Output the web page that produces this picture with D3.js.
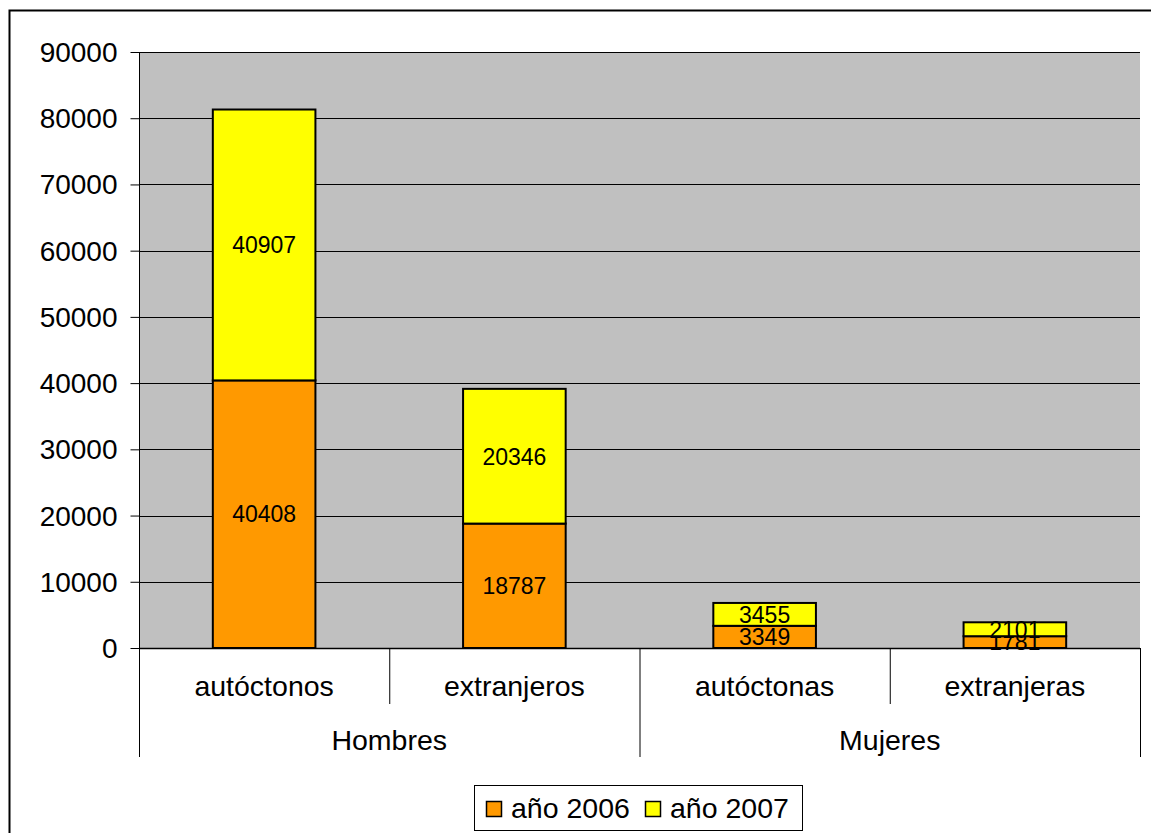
<!DOCTYPE html>
<html><head><meta charset="utf-8">
<script src="https://cdn.jsdelivr.net/npm/d3@7"></script>
<style>body{margin:0;background:#fff;}svg{display:block;font-family:"Liberation Sans",Arial,sans-serif;}</style>
</head><body>
<svg id="c" width="1151" height="833"></svg>
<script>
const categories = ["autóctonos","extranjeros","autóctonas","extranjeras"];
const groups = ["Hombres","Hombres","Mujeres","Mujeres"];
const groupNames = ["Hombres","Mujeres"];
const series = ["año 2006","año 2007"];
const values2006 = [40408, 18787, 3349, 1781];
const values2007 = [40907, 20346, 3455, 2101];
const yTicks = [0,10000,20000,30000,40000,50000,60000,70000,80000,90000];
const colors = ["#FF9900","#FFFF00"];

const svg = d3.select("#c");
svg.append("rect").attr("x",9.5).attr("y",10.5).attr("width",1160).attr("height",840)
  .attr("fill","none").attr("stroke","#000").attr("stroke-width",2);

const L=139, R=1140, T=52, B=648;
const x = d3.scaleBand().domain(categories.map((c,i)=>i)).range([L,R]).paddingInner(0).paddingOuter(0);
const y = d3.scaleLinear().domain([0,90000]).range([B,T]);

svg.append("rect").attr("x",L).attr("y",T).attr("width",R-L).attr("height",B-T).attr("fill","#C0C0C0");

svg.append("g").selectAll("line").data(yTicks.filter(d=>d>0)).join("line")
  .attr("x1",L).attr("x2",R).attr("y1",d=>Math.round(y(d))+0.5).attr("y2",d=>Math.round(y(d))+0.5)
  .attr("stroke","#000").attr("stroke-width",1);

const ya = svg.append("g").attr("transform",`translate(${L+0.5},0)`)
  .call(d3.axisLeft(y).tickValues(yTicks).tickFormat(d3.format("d")).tickSize(9).tickPadding(13));
ya.selectAll("text").attr("font-size",28).attr("fill","#000").attr("font-family","Liberation Sans, Arial, sans-serif")
  .attr("transform","scale(1,0.93)").attr("y",null).attr("dy",null)
  .attr("dy","0.34em");
ya.selectAll(".tick text").each(function(){ const t=d3.select(this); t.attr("transform",null); });
ya.selectAll("line").attr("stroke","#000");
ya.select(".domain").attr("stroke","#000").attr("d",`M0,${T}V${B}`);

const stackData = categories.map((c,i)=>({i, a:values2006[i], b:values2007[i]}));
const stack = d3.stack().keys(["a","b"])(stackData);
const bw = x.bandwidth()*0.41;
stack.forEach((layer,k)=>{
  const g = svg.append("g");
  g.selectAll("rect").data(layer).join("rect")
    .attr("x",d=>x(d.data.i)+x.bandwidth()/2-bw/2)
    .attr("y",d=>y(d[1]))
    .attr("width",bw)
    .attr("height",d=>y(d[0])-y(d[1]))
    .attr("fill",colors[k]).attr("stroke","#000").attr("stroke-width",2);
  g.selectAll("text").data(layer).join("text")
    .attr("x",d=>x(d.data.i)+x.bandwidth()/2)
    .attr("y",d=>(y(d[0])+y(d[1]))/2)
    .attr("dy","0.36em").attr("text-anchor","middle").attr("font-size",23)
    .text(d=>d[1]-d[0]);
});

svg.append("line").attr("x1",L).attr("x2",R).attr("y1",B+0.5).attr("y2",B+0.5).attr("stroke","#000").attr("stroke-width",1.5);

const divs = d3.range(categories.length+1);
svg.append("g").selectAll("line").data(divs).join("line")
  .attr("x1",i=>i<categories.length? x(i)+0.5 : R+0.5).attr("x2",i=>i<categories.length? x(i)+0.5 : R+0.5)
  .attr("y1",B).attr("y2",i=>(i%2===0)?757:704)
  .attr("stroke","#000").attr("stroke-width",1);

svg.append("g").selectAll("text").data(categories).join("text")
  .attr("x",(d,i)=>x(i)+x.bandwidth()/2).attr("y",686).attr("dy","0.34em")
  .attr("text-anchor","middle").attr("font-size",28.5).text(d=>d);

svg.append("g").selectAll("text").data(groupNames).join("text")
  .attr("x",(d)=>{const idx=groups.map((g,i)=>g===d?i:-1).filter(i=>i>=0);return (x(idx[0])+x(idx[idx.length-1])+x.bandwidth())/2;})
  .attr("y",740).attr("dy","0.34em").attr("text-anchor","middle").attr("font-size",28.5).text(d=>d);

const lg = svg.append("g");
lg.append("rect").attr("x",474.5).attr("y",785.5).attr("width",328).attr("height",45)
  .attr("fill","#fff").attr("stroke","#000").attr("stroke-width",1);
const lx = [486,645];
series.forEach((s,k)=>{
  lg.append("rect").attr("x",lx[k]+0.5).attr("y",801.5).attr("width",15).attr("height",15)
    .attr("fill",colors[k]).attr("stroke","#000").attr("stroke-width",1.5);
  lg.append("text").attr("x",lx[k]+25).attr("y",808).attr("dy","0.34em").attr("font-size",28.5).text(s);
});
</script>
</body></html>
